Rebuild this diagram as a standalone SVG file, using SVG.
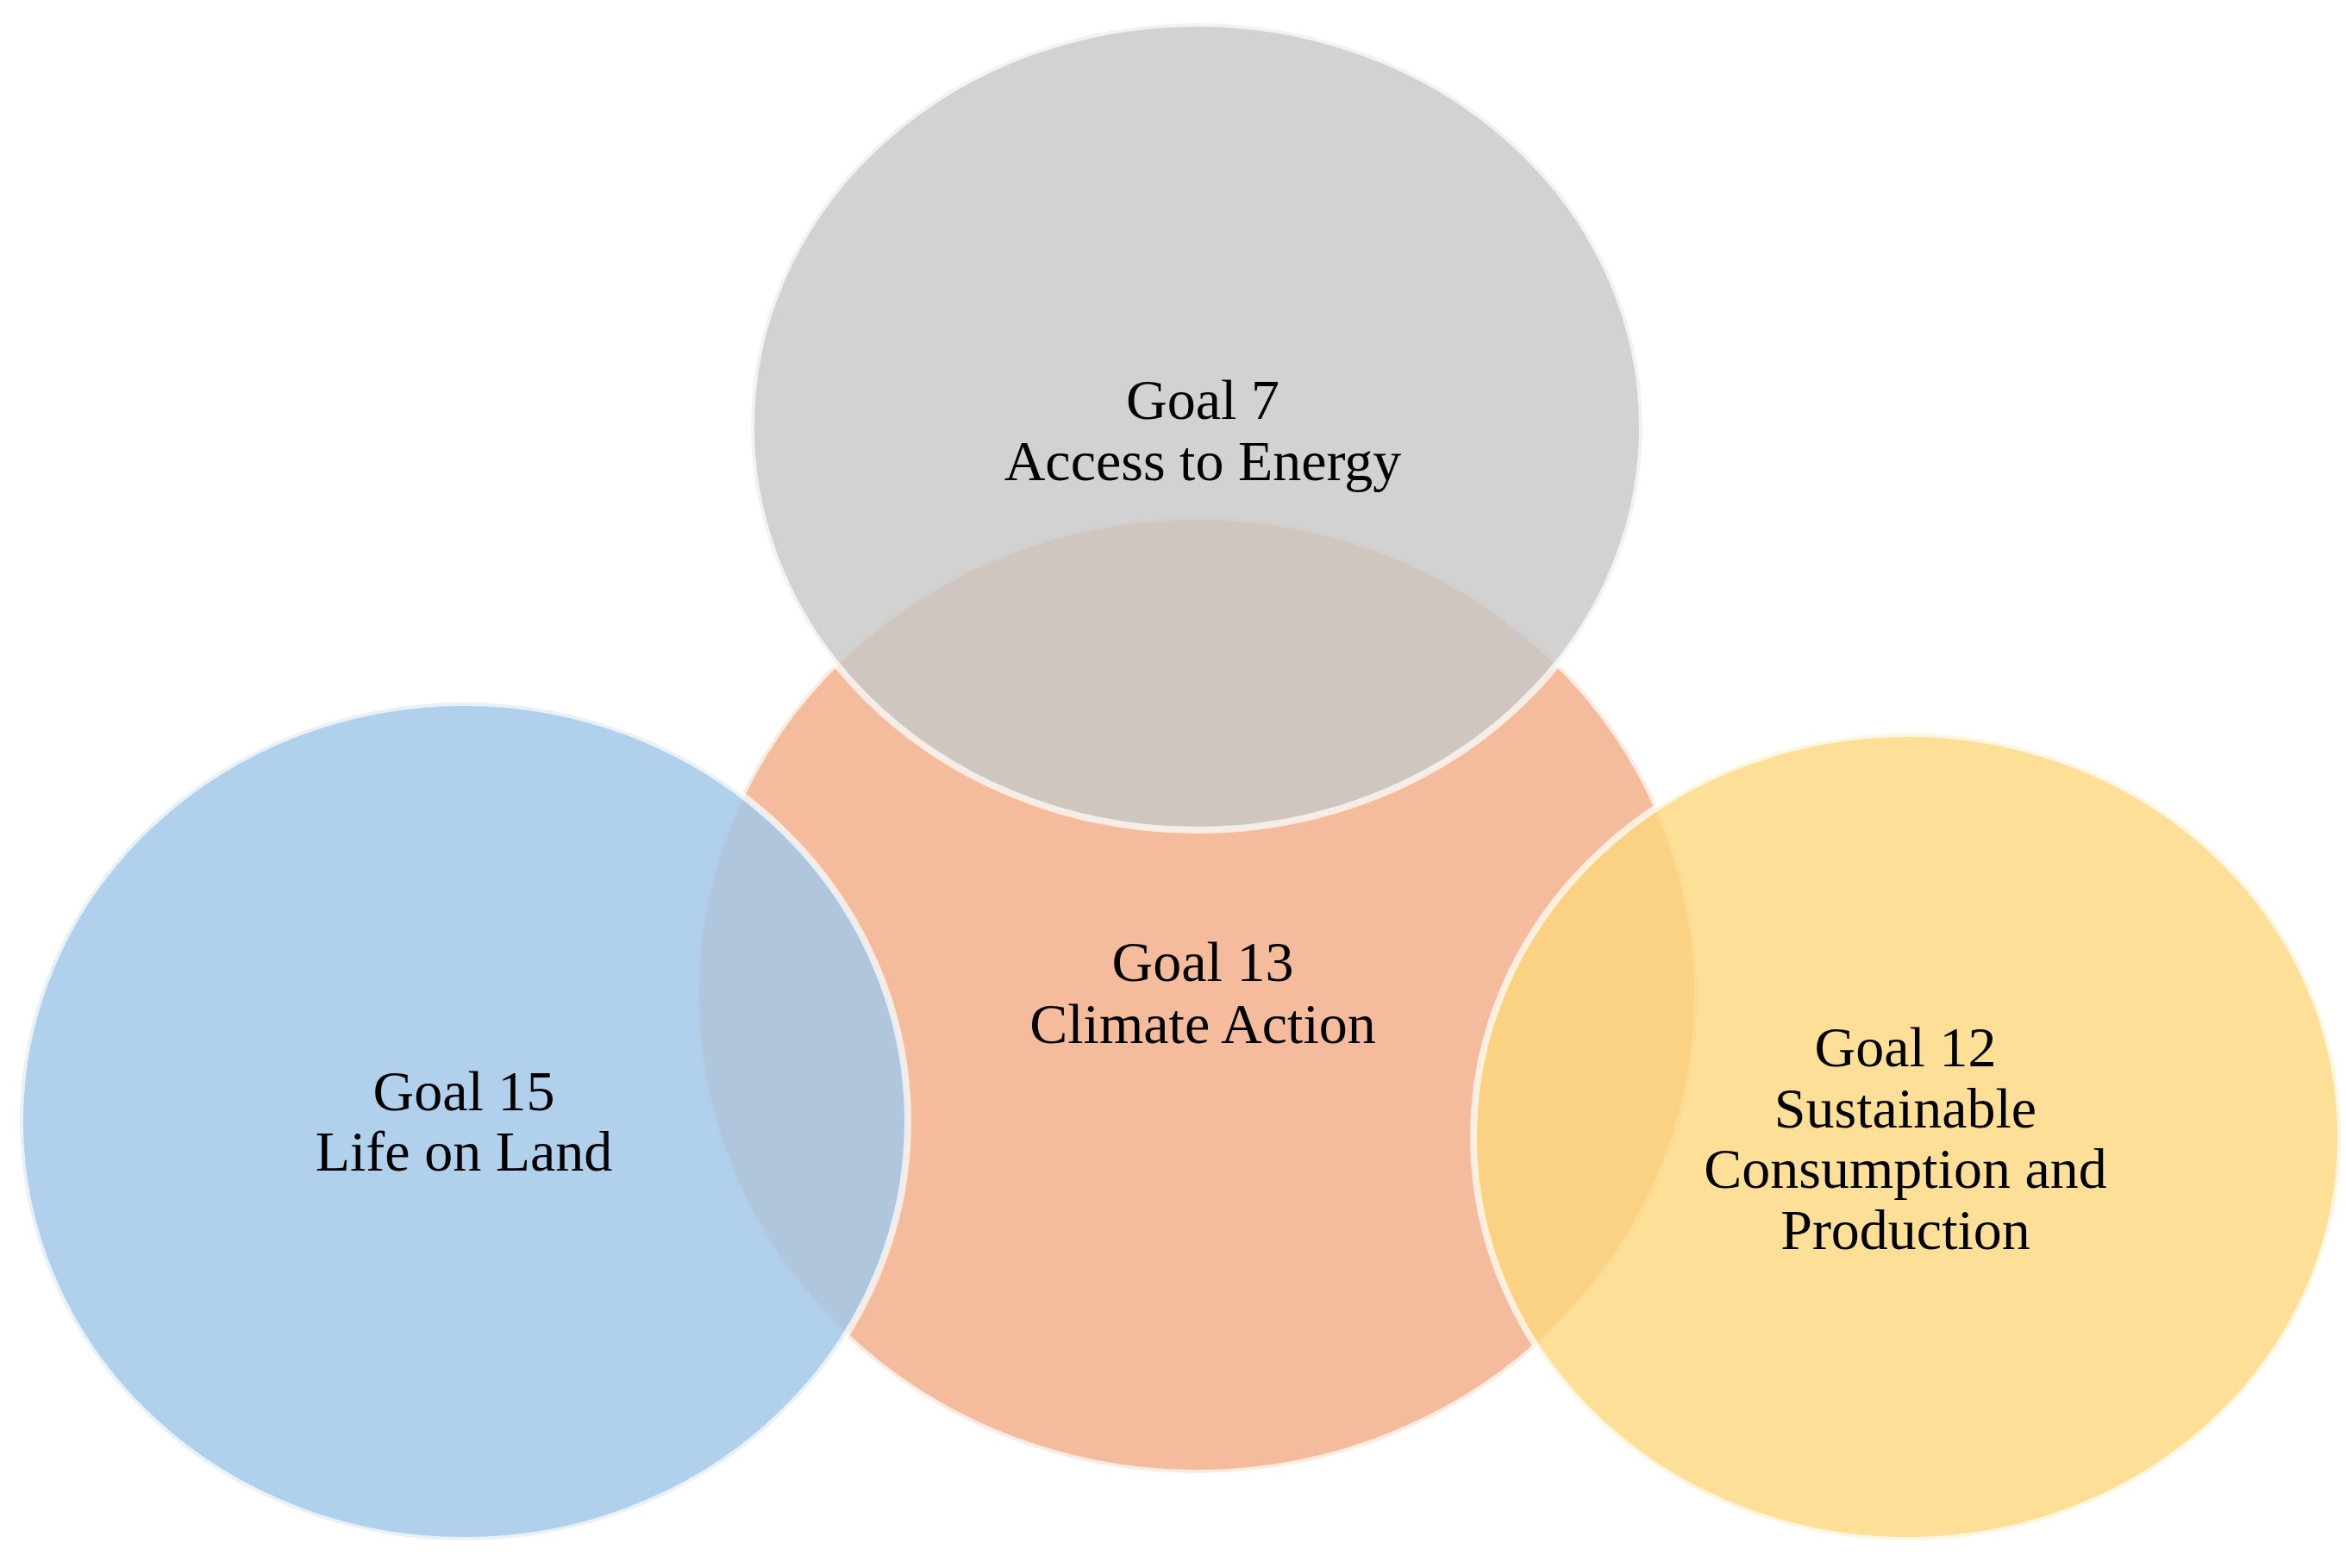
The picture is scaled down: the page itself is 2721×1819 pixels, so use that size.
<svg xmlns="http://www.w3.org/2000/svg" width="2721" height="1819" viewBox="0 0 2721 1819">
<style>
.c{stroke:#ffffff;stroke-width:8;stroke-opacity:0.7}
.t{font-family:"Liberation Serif",serif;font-size:66px;fill:#000;text-anchor:middle}
</style>
<rect width="2721" height="1819" fill="#fff"/>
<g id="goal13"><ellipse class="c" cx="1388" cy="1154" rx="581" ry="555" fill="#F4BC9C"/></g>
<g id="goal7"><ellipse class="c" cx="1388" cy="495" rx="517" ry="468" fill="#C8C8C8" fill-opacity="0.82"/></g>
<g id="goal15"><ellipse class="c" cx="538" cy="1301" rx="515" ry="486" fill="#A3C8E8" fill-opacity="0.85"/></g>
<g id="goal12"><ellipse class="c" cx="2212" cy="1319" rx="503" ry="468" fill="#FCD77E" fill-opacity="0.8"/></g>
<g id="connectors"></g>
<g id="labels">
<text class="t" x="1395" y="486">Goal 7</text>
<text class="t" x="1395" y="557">Access to Energy</text>
<text class="t" x="1395" y="1138">Goal 13</text>
<text class="t" x="1395" y="1210">Climate Action</text>
<text class="t" x="538" y="1288">Goal 15</text>
<text class="t" x="538" y="1358">Life on Land</text>
<text class="t" x="2210" y="1237">Goal 12</text>
<text class="t" x="2210" y="1308">Sustainable</text>
<text class="t" x="2210" y="1378">Consumption and</text>
<text class="t" x="2210" y="1449">Production</text>
</g>
</svg>
